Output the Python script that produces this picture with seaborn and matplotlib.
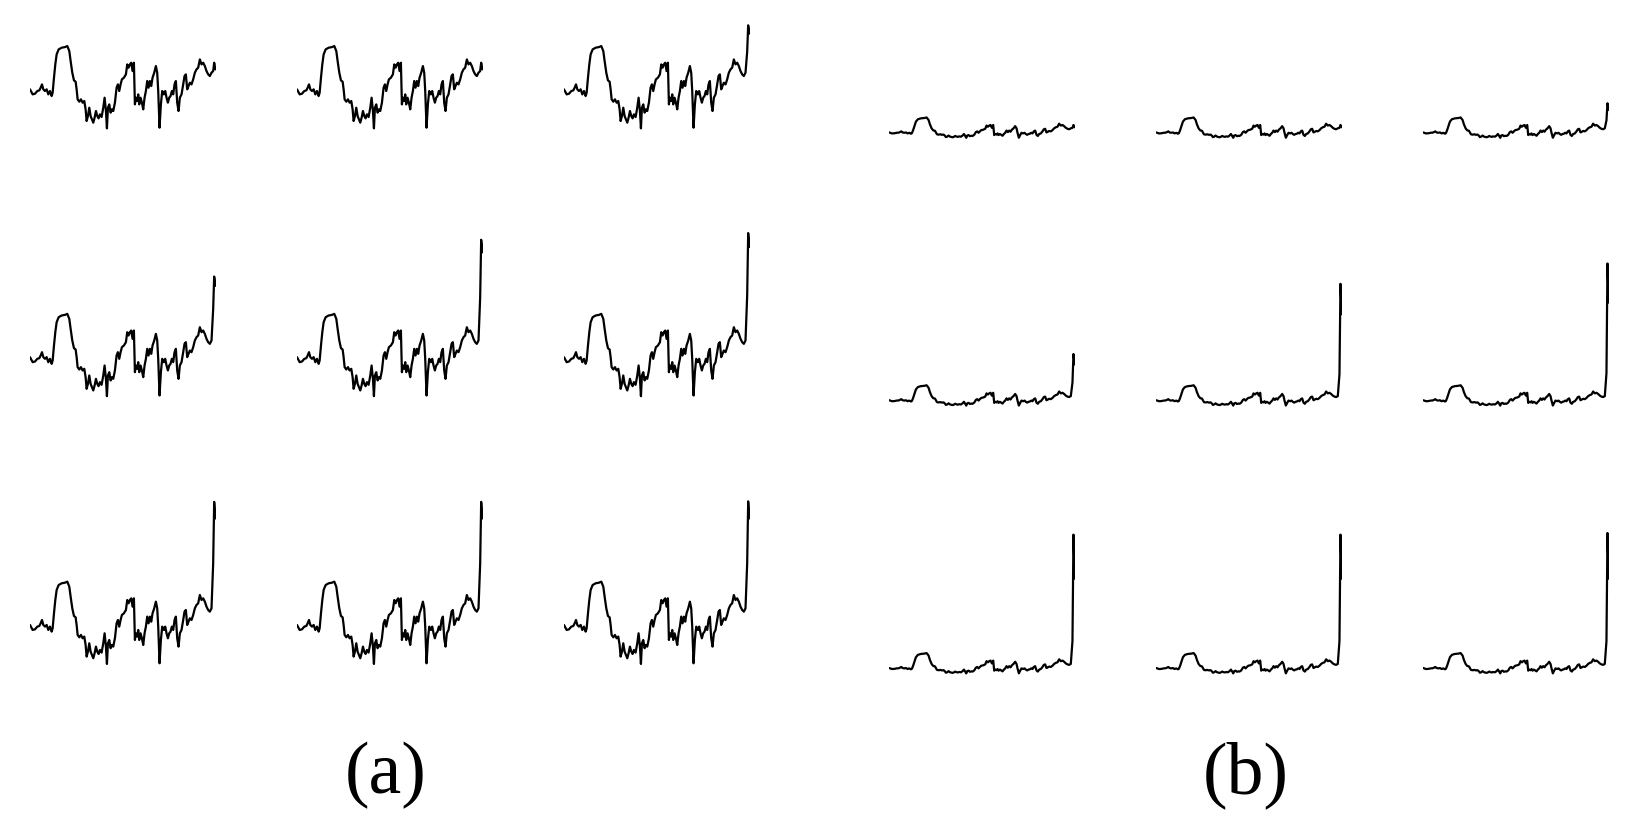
import numpy as np
import pandas as pd
import matplotlib.pyplot as plt
import seaborn as sns

# spectrum: bin index and level in dB (shared part)
bins = [30, 38, 45, 52, 58, 62, 66, 70, 75, 80, 85, 90, 95, 98, 102, 106, 110, 116, 125, 135,
        142, 148, 152, 157, 162, 167, 170, 173, 178, 183, 188, 193, 197, 200, 204, 208, 212, 216, 220, 224,
        228, 232, 236, 240, 245, 250, 254, 258, 261, 264, 268, 272, 276, 280, 285, 290, 294, 298, 302, 306,
        312, 318, 322, 326, 330, 334, 338, 342, 345, 348, 352, 355, 358, 362, 366, 370, 374, 378, 382, 386,
        390, 394, 398, 403, 408, 412, 415, 419, 423, 427, 432, 436, 440, 444, 448, 452, 456, 460, 464, 468,
        472, 476, 480, 485, 490, 494, 498, 502, 506, 510, 515, 520, 525, 530, 535, 540, 545, 550, 555, 560,
        565, 570, 575]
level_db = [8.04, 7.07, 7.20, 7.72, 7.84, 8.36, 9.00, 8.04, 7.72, 8.04, 7.07, 7.72, 6.75, 7.39, 10.29, 12.86, 14.79, 15.75, 16.08, 16.20,
            16.40, 15.43, 13.50, 11.25, 9.77, 9.52, 8.04, 6.11, 5.66, 6.11, 5.47, 5.79, 4.18, 1.93, 2.89, 4.50, 2.89, 2.25, 1.61, 2.57,
            3.86, 2.89, 2.44, 3.22, 2.70, 4.50, 6.43, 3.86, 0.51, 4.50, 5.14, 3.54, 4.18, 3.86, 5.47, 8.36, 9.00, 7.72, 9.00, 9.97,
            10.29, 10.93, 12.86, 12.22, 12.86, 13.18, 11.57, 13.18, 5.14, 6.43, 5.79, 7.07, 5.14, 6.43, 5.47, 4.18, 6.43, 7.72, 9.65, 8.36,
            9.65, 8.68, 10.29, 11.25, 12.54, 11.25, 7.72, 0.64, 5.14, 7.72, 7.07, 7.72, 6.43, 5.47, 6.43, 6.75, 7.72, 7.07, 9.00, 9.65,
            5.47, 3.86, 6.43, 7.07, 9.00, 10.61, 10.93, 8.04, 8.68, 9.32, 9.00, 9.97, 11.25, 11.90, 12.22, 13.82, 12.86, 13.18, 12.54, 11.57,
            10.93, 10.61, 11.25]

# last samples of each of the nine plots, row by row (the spike grows)
tail_bins = [580, 583, 587]
tails_db = [
    [11.57, 13.18, 11.90],
    [11.57, 13.18, 11.90],
    [15.3, 20.4, 18.8],
    [17.3, 23.6, 21.8],
    [19.6, 30.7, 28.3],
    [19.9, 32.0, 29.3],
    [19.9, 31.8, 28.6],
    [19.9, 31.8, 28.6],
    [19.9, 31.9, 28.6],
]

panel_labels = ['(a)', '(b)']

sns.set_style('white')
plt.rcParams['font.family'] = ['Liberation Serif', 'DejaVu Serif']

W, H = 1650, 828
fig = plt.figure(figsize=(W / 100, H / 100), dpi=100)

plot_w = 185.5
rows_a = [132, 399.8, 667.6]      # pixel row of 0 dB
cols_a = [30, 297, 564]
rows_b = [142.7, 410.5, 678.3]    # pixel row of zero amplitude
cols_b = [889.3, 1156.3, 1423.3]


def add_box(x0, y_zero, px_per_unit, ymax):
    h = px_per_unit * ymax
    ax = fig.add_axes([x0 / W, 1 - y_zero / H, plot_w / W, h / H])
    ax.set_ylim(0, ymax)
    ax.axis('off')
    return ax


for i in range(9):
    r, c = divmod(i, 3)
    df = pd.DataFrame({'bin': bins + tail_bins, 'db': level_db + tails_db[i]})
    df['amp'] = 10 ** (df['db'] / 20)

    # (a) log level
    ax = add_box(cols_a[c], rows_a[r], 5.18, 33)
    sns.lineplot(data=df, x='bin', y='db', ax=ax, color='black', lw=1.6, estimator=None)
    ax.set_xlim(bins[0], tail_bins[-1])
    ax.axis('off')

    # (b) linear amplitude
    ax = add_box(cols_b[c], rows_b[r], 3.667, 42)
    sns.lineplot(data=df, x='bin', y='amp', ax=ax, color='black', lw=1.6, estimator=None)
    ax.set_xlim(bins[0], tail_bins[-1])
    ax.axis('off')

fig.text(385.5 / W, 1 - 793 / H, panel_labels[0], ha='center', va='baseline',
         fontsize=53, color='black', family=['Liberation Serif', 'DejaVu Serif'])
fig.text(1245.5 / W, 1 - 793 / H, panel_labels[1], ha='center', va='baseline',
         fontsize=53, color='black', family=['Liberation Serif', 'DejaVu Serif'])

fig.savefig('out.png', dpi=100)
